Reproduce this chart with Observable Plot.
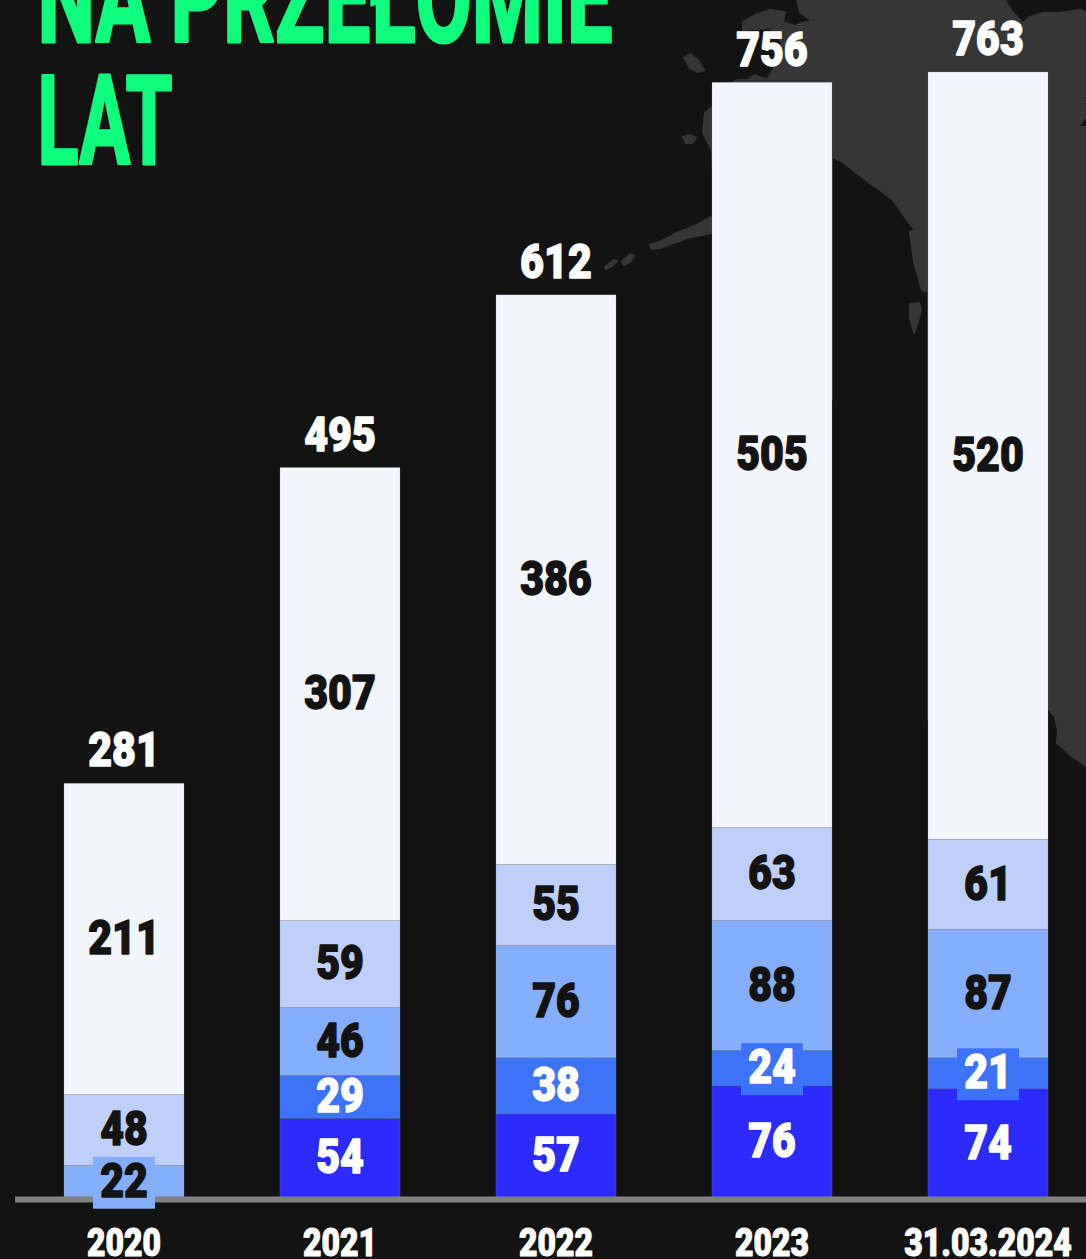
<!DOCTYPE html>
<html><head><meta charset="utf-8">
<script src="https://cdn.jsdelivr.net/npm/d3@7"></script>
<script src="https://cdn.jsdelivr.net/npm/@observablehq/plot@0.6"></script>
<style>
html,body{margin:0;padding:0;background:#131313;overflow:hidden}
#wrap{position:relative;width:1086px;height:1259px;background:#131313;overflow:hidden}
#wrap>svg{position:absolute;left:0;top:0}
</style></head><body><div id="wrap">
<svg width="1086" height="1259" viewBox="0 0 1086 1259" fill="#363636" stroke="#363636" stroke-width="2" stroke-linejoin="round" aria-hidden="true">
<path d="M797 0L800 12L813 22L805 22L795 26L783 22L785 12L770 10L755 15L743 22L743 30L770 28L782 43L777 63L767 80L755 75L747 80L738 80L733 82L712 107L705 113L703 133L712 150L720 400L832 400L832 157L840 160L848 166L863 178L880 190L893 200L907 220L917 232L928 250L928 720L1047 707L1055 717L1058 730L1057 743L1073 757L1086 766L1086 127L1077 127L1086 117L1086 105L1075 105L1086 102L1086 12L1080 10L1060 13L1043 13L1030 17L1023 23L1013 13L1005 0Z"/>
<path d="M684 58L690 54L698 60L704 70L698 72L690 68Z"/>
<path d="M683 137L690 135L696 138L692 143L686 143Z"/>
<path d="M650 245L662 241L677 233L695 226L711 217L711 233L687 238L660 248L652 249Z"/>
<path d="M622 262L630 254L634 256L630 262L624 265Z"/>
<path d="M605 267L614 260L617 261L612 266L606 269Z"/>
<path d="M910 304L919 303L921 310L917 325L914 333L910 318Z"/>
<path d="M910 232L918 228L928 250L928 292L922 290L914 262Z"/>
</svg>
</div>
<script>
const categories = ["2020","2021","2022","2023","31.03.2024"];
const totals = [281,495,612,756,763];
const seriesA = [0,54,57,76,74];
const seriesB = [0,29,38,24,21];
const seriesC = [22,46,76,88,87];
const seriesD = [48,59,55,63,61];
const seriesE = [211,307,386,505,520];
const seriesNames = ["A","B","C","D","E"];
const seriesValues = [seriesA,seriesB,seriesC,seriesD,seriesE];
const seriesColors = ["#2b2bff","#3d73fb","#85aefa","#bfcffc","#f2f5fb"];
const textColors = ["#ffffff","#ffffff","#131313","#131313","#131313"];
const titleLines = ["NA PRZEŁOMIE","LAT"];
const titleWidths = [575,135];
const boxedLabels = [["2020","C",22],["2023","B",24],["31.03.2024","B",21]];

const rows = [];
categories.forEach((c,i)=>{
  let base = 0;
  seriesValues.forEach((vals,s)=>{
    const v = vals[i];
    if(v>0){ rows.push({c,s:seriesNames[s],v,si:s,mid:base+v/2}); base += v; }
  });
});
const tot = categories.map((c,i)=>({c,v:totals[i]}));
const boxes = boxedLabels.map(([c,s,v])=>rows.find(r=>r.c===c&&r.s===s&&r.v===v));
const halfBox = 17.6;
const numStyle = {fontFamily:"Roboto",fontWeight:900,fontSize:49,className:"num"};
const titleStyle = {frameAnchor:"top-left",lineAnchor:"bottom",dx:37,fill:"#0dff7e",stroke:"#0dff7e",strokeWidth:3,fontFamily:"Roboto",fontWeight:700,fontSize:125,className:"ttl"};
const plot = Plot.plot({
  width:1086,height:1259,
  marginTop:0,marginRight:0,marginBottom:0,marginLeft:0,
  style:{background:"transparent",overflow:"visible"},
  x:{domain:categories,range:[15,1096.7],paddingInner:0.4426,paddingOuter:0.2229,axis:null},
  y:{domain:[0,763],range:[1198,72],axis:null},
  color:{domain:seriesNames,range:seriesColors},
  marks:[
    Plot.barY(rows,Plot.stackY({x:"c",y:"v",fill:"s",order:seriesNames,stroke:"#8a93a6",strokeOpacity:0.3,strokeWidth:0.6})),
    Plot.ruleY([0],{insetLeft:15,stroke:"#808080",strokeWidth:6,dy:1}),
    Plot.barY(boxes,{x:"c",y1:d=>d.mid-halfBox,y2:d=>d.mid+halfBox,fill:"s",insetLeft:29,insetRight:29,dy:1}),
    Plot.text(rows,{x:"c",y:"mid",text:"v",dx:-0.5,dy:-1,fill:d=>textColors[d.si],stroke:d=>textColors[d.si],strokeWidth:1.4,...numStyle}),
    Plot.text(tot,{x:"c",y:"v",text:"v",dx:-0.5,dy:-33,fill:"#fff",stroke:"#fff",strokeWidth:1.4,...numStyle}),
    Plot.text(categories,{x:d=>d,frameAnchor:"bottom",lineAnchor:"bottom",dy:-4,dx:-0.5,fill:"#fff",stroke:"#fff",strokeWidth:1.1,fontFamily:"Roboto",fontWeight:900,fontSize:38,className:"num"}),
    Plot.text([titleLines[0]],{...titleStyle,dy:41}),
    Plot.text([titleLines[1]],{...titleStyle,dy:163}),
  ]
});
d3.select(plot).selectAll(".num text").each(function(){const t=d3.select(this);t.attr("transform",t.attr("transform")+" scale(0.84,1)");});
d3.select(plot).selectAll(".ttl text").each(function(){
  const t=d3.select(this);
  t.attr("textLength",titleWidths[titleLines.indexOf(t.text())]).attr("lengthAdjust","spacingAndGlyphs");
});
document.getElementById("wrap").appendChild(plot);
</script>
</body></html>
